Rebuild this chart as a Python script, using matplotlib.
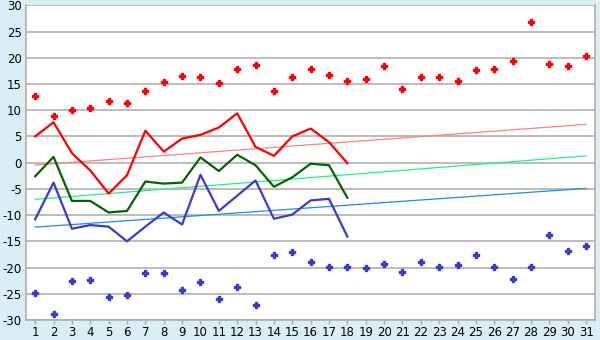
import matplotlib
matplotlib.use("Agg")
import matplotlib.pyplot as plt
import numpy as np

days = list(range(1, 32))
max_scatter = [12.8, 8.8, 10.0, 10.5, 11.7, 11.3, 13.6, 15.3, 16.6, 16.3,
               15.1, 17.8, 18.7, 13.6, 16.3, 17.8, 16.8, 15.5, 15.9, 18.5,
               14.0, 16.3, 16.3, 15.5, 17.6, 17.8, 19.3, 26.8, 18.9, 18.4, 20.3]
min_scatter = [-24.9, -28.9, -22.6, -22.4, -25.7, -25.3, -21.1, -21.1, -24.3, -22.8,
               -26.0, -23.8, -27.2, -17.6, -17.1, -19.0, -19.9, -19.9, -20.1, -19.4,
               -20.9, -19.0, -19.9, -19.6, -17.6, -19.9, -22.2, -19.9, -13.8, -16.9, -15.8]
line_days = list(range(1, 19))
max_line = [5.0, 7.7, 1.8, -1.5, -5.9, -2.4, 6.1, 2.1, 4.6, 5.3,
            6.7, 9.4, 3.0, 1.3, 5.0, 6.5, 3.9, -0.1]
mean_line = [-2.6, 1.1, -7.3, -7.3, -9.5, -9.2, -3.6, -4.0, -3.8, 1.0,
             -1.6, 1.5, -0.5, -4.6, -2.8, -0.2, -0.5, -6.7]
min_line = [-10.8, -3.8, -12.6, -11.9, -12.2, -15.0, -12.2, -9.5, -11.8, -2.3,
            -9.2, -6.3, -3.4, -10.7, -9.9, -7.2, -6.9, -14.1]
trend_days = [1, 31]
max_trend = [-0.45, 7.3]
mean_trend = [-7.0, 1.3]
min_trend = [-12.3, -4.9]

yticks = list(range(-30, 31, 5))

bg = "#D9EEF5"
fig = plt.figure(figsize=(6, 3.4), dpi=100, facecolor=bg)
ax = fig.add_axes([26/600, 20/340, (595.3-26)/600, (320-5.3)/340])
ax.set_facecolor("white")

for y in yticks:
    ax.axhline(y, color="#AAAAAA", lw=1.1, zorder=1)

ax.plot(trend_days, max_trend, color="#FF8080", lw=0.9, zorder=2)
ax.plot(trend_days, mean_trend, color="#22EE88", lw=0.9, zorder=2)
ax.plot(trend_days, min_trend, color="#1E88FF", lw=0.9, zorder=2)

ax.plot(line_days, max_line, color="#FF0000", lw=1.6, zorder=3)
ax.plot(line_days, mean_line, color="#006400", lw=1.6, zorder=3)
ax.plot(line_days, min_line, color="#3A3AD0", lw=1.6, zorder=3)

ax.plot(days, max_scatter, linestyle="none", marker="P", ms=4.0, color="#FF0000", mec="#FF0000", zorder=4)
ax.plot(days, min_scatter, linestyle="none", marker="P", ms=4.0, color="#3A3AD0", mec="#3A3AD0", zorder=4)

ax.set_xlim(0.5, 31.5)
ax.set_ylim(-30, 30)
ax.set_xticks(days)
ax.set_xticklabels([str(d) for d in days])
ax.set_yticks(yticks)
ax.set_yticklabels([str(y) for y in yticks])
ax.tick_params(axis="x", length=3, width=1, color="#AAAAAA", labelsize=8.5, pad=1, labelcolor="black")
ax.tick_params(axis="y", length=0, labelsize=8.5, pad=3, labelcolor="black")
for s in ["left", "bottom", "right"]:
    ax.spines[s].set_color("#AAAAAA")
    ax.spines[s].set_linewidth(1.1)
ax.spines["top"].set_visible(False)

fig.savefig("out.png", dpi=100, facecolor=bg)
